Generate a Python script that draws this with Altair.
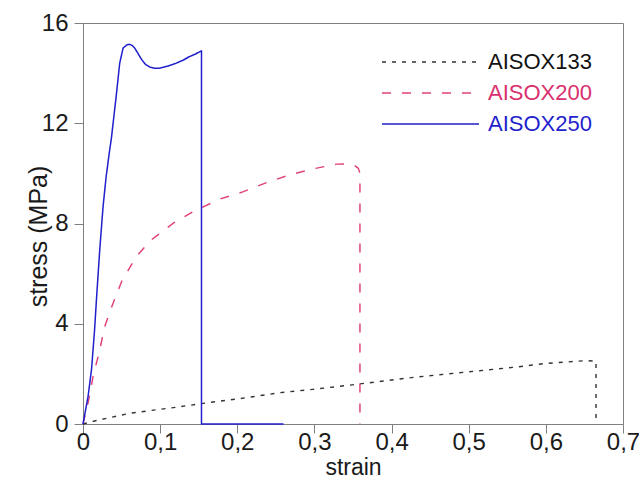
import altair as alt
import pandas as pd

series_names = ["AISOX133", "AISOX200", "AISOX250"]
series_colors = ["#333333", "#e0407a", "#1f1fcc"]
series_dash = [[4, 6], [9, 11], [1, 0]]
series_width = [1.4, 1.5, 2.2]

# AISOX133
s133_strain = [0, 0.015, 0.061, 0.121, 0.162, 0.212, 0.255, 0.298, 0.359, 0.428, 0.493, 0.558, 0.601, 0.653, 0.665, 0.665]
s133_stress = [0, 0.12, 0.43, 0.67, 0.85, 1.05, 1.25, 1.38, 1.60, 1.86, 2.06, 2.26, 2.42, 2.53, 2.50, 0]

# AISOX200
s200_strain = [0, 0.007, 0.013, 0.0217, 0.028, 0.039, 0.050, 0.069, 0.0887, 0.117, 0.143, 0.177, 0.208, 0.238, 0.268, 0.298, 0.329, 0.343, 0.352, 0.357, 0.359, 0.359]
s200_stress = [0, 0.9, 1.89, 2.95, 3.88, 4.82, 5.68, 6.68, 7.35, 8.01, 8.48, 8.97, 9.27, 9.63, 9.94, 10.18, 10.37, 10.38, 10.32, 10.2, 10.0, 0]

# AISOX250
s250_strain = [0, 0.0065, 0.011, 0.015, 0.0174, 0.0217, 0.026, 0.030, 0.0346, 0.0368, 0.043, 0.0476, 0.052, 0.0565, 0.0606, 0.064, 0.067, 0.071, 0.0758, 0.081, 0.0866, 0.093, 0.0995, 0.11, 0.121, 0.13, 0.138, 0.145, 0.1536, 0.1536, 0.26]
s250_stress = [0, 1.09, 2.16, 3.75, 4.95, 6.95, 8.67, 9.87, 10.94, 11.4, 13.07, 14.4, 15.0, 15.12, 15.15, 15.1, 15.0, 14.8, 14.55, 14.35, 14.24, 14.19, 14.2, 14.28, 14.4, 14.52, 14.66, 14.75, 14.89, 0, 0]

x_ticks = [0, 0.1, 0.2, 0.3, 0.4, 0.5, 0.6, 0.7]
y_ticks = [0, 4, 8, 12, 16]

rows = []
for name, xs, ys in [("AISOX133", s133_strain, s133_stress),
                     ("AISOX200", s200_strain, s200_stress),
                     ("AISOX250", s250_strain, s250_stress)]:
    for i, (xv, yv) in enumerate(zip(xs, ys)):
        rows.append({"series": name, "strain": xv, "stress": yv, "idx": i})
df = pd.DataFrame(rows)

label_color_expr = ("datum.label == 'AISOX200' ? '#d9306e' : "
                    "(datum.label == 'AISOX250' ? '#1f1fcc' : '#111111')")


def make_legend():
    return alt.Legend(title=None, orient="none", legendX=298, legendY=29,
                      symbolType="stroke", symbolSize=9409, symbolStrokeWidth=1.8,
                      clipHeight=20, rowPadding=9, labelOffset=8,
                      labelFontSize=22, padding=0,
                      labelColor=alt.ExprRef(label_color_expr))


chart = alt.Chart(df).mark_line(strokeJoin="round").encode(
    x=alt.X("strain:Q",
            scale=alt.Scale(domain=[0, 0.7], nice=False, zero=False),
            axis=alt.Axis(values=x_ticks, title="strain",
                          labelExpr="datum.value == 0 ? '0' : replace(format(datum.value, '.1f'), '.', ',')",
                          labelFlush=False, labelOverlap=False,
                          tickSize=9, labelPadding=-3, labelFontSize=24,
                          titleFontSize=23, titleY=50, titleBaseline="alphabetic")),
    y=alt.Y("stress:Q",
            scale=alt.Scale(domain=[0, 16], nice=False),
            axis=alt.Axis(values=y_ticks, title="stress (MPa)", format="d",
                          labelFlush=False,
                          tickSize=9, labelPadding=6, labelFontSize=24,
                          titleFontSize=25, titleX=-45, titleY=213,
                          titleAlign="center", titleBaseline="middle", titleAngle=270)),
    color=alt.Color("series:N",
                    scale=alt.Scale(domain=series_names, range=series_colors),
                    legend=make_legend()),
    strokeDash=alt.StrokeDash("series:N",
                              scale=alt.Scale(domain=series_names, range=series_dash),
                              legend=make_legend()),
    strokeWidth=alt.StrokeWidth("series:N",
                                scale=alt.Scale(domain=series_names, range=series_width),
                                legend=None),
    order=alt.Order("idx:Q"),
    detail="series:N",
).properties(
    width=540, height=401,
    autosize="none",
    padding={"left": 83, "top": 23, "right": 16, "bottom": 57},
).configure(
    font="Liberation Sans",
).configure_view(
    stroke="#808080", strokeWidth=1,
).configure_axis(
    grid=False, domainColor="#808080", tickColor="#808080",
    labelColor="#1a1a1a", titleColor="#1a1a1a", titleFontWeight="normal",
    labelFont="Liberation Sans", titleFont="Liberation Sans",
).configure_legend(
    labelFont="Liberation Sans",
)

chart.save("out.html", embed_options={"renderer": "svg", "actions": False})
